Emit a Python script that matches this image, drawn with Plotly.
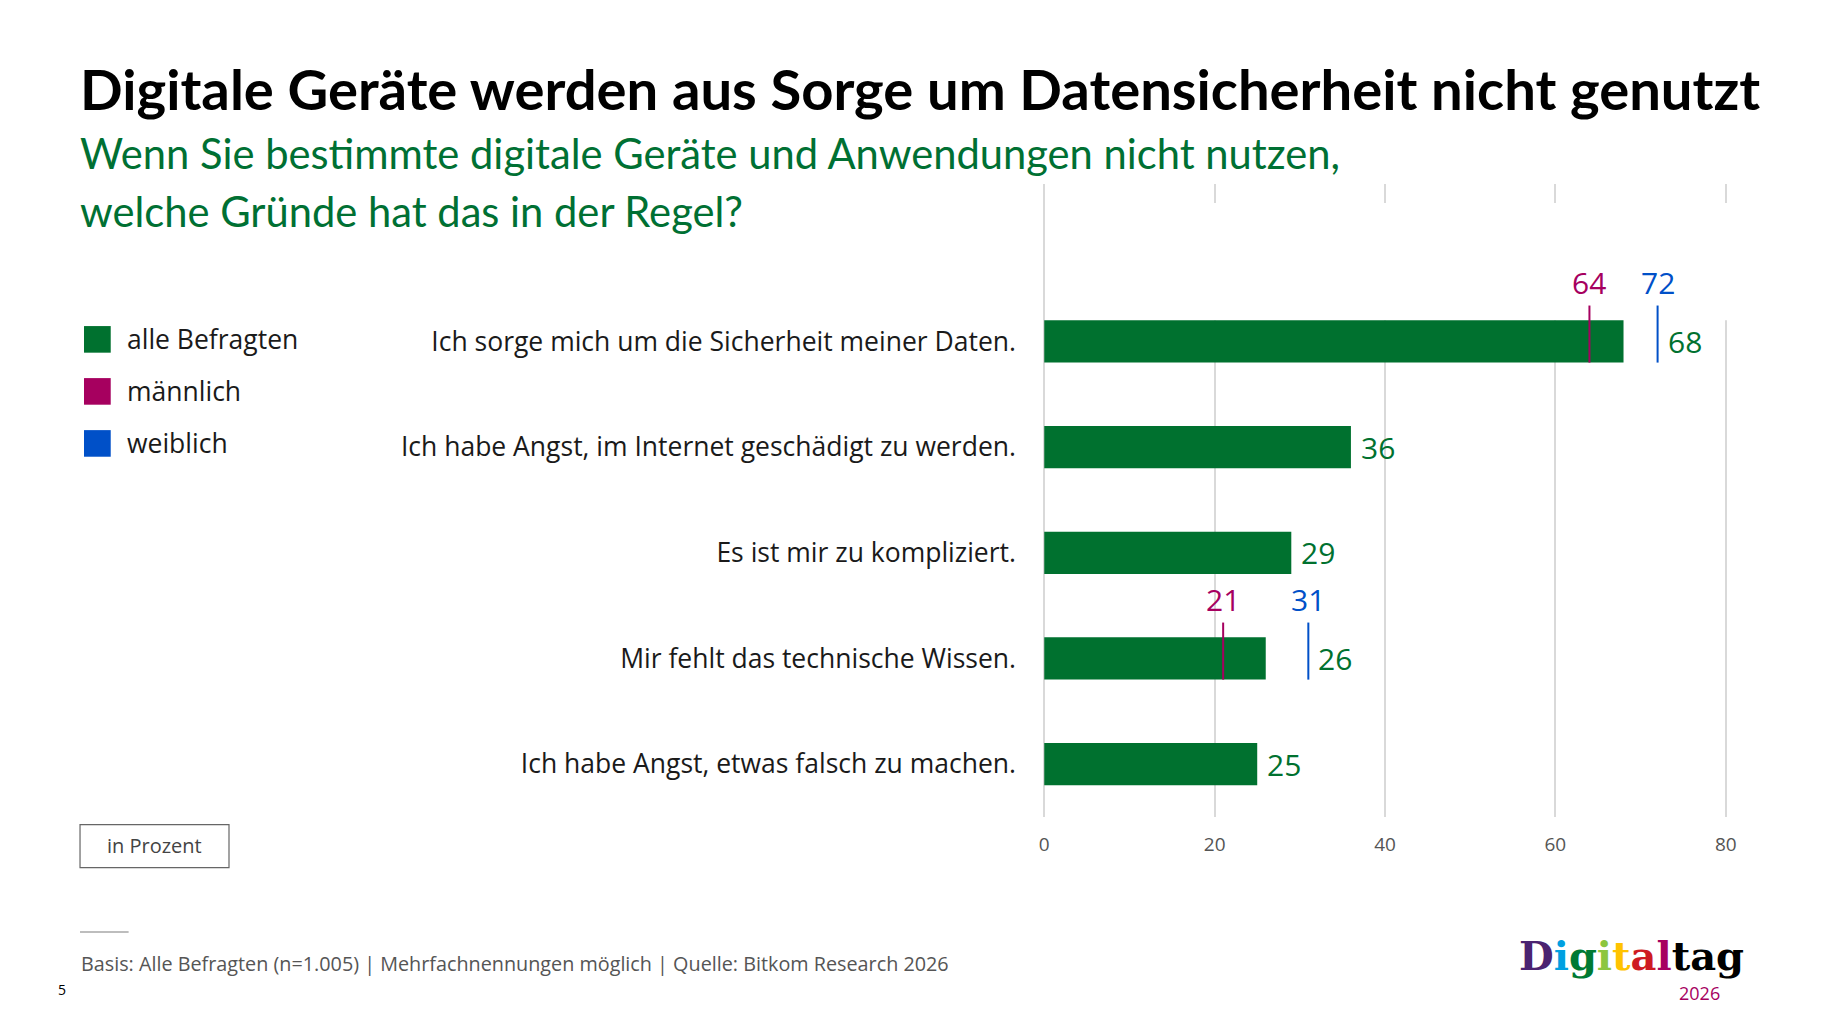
import plotly.graph_objects as go

# ---------------- data ----------------
categories = [
    "Ich sorge mich um die Sicherheit meiner Daten.",
    "Ich habe Angst, im Internet geschädigt zu werden.",
    "Es ist mir zu kompliziert.",
    "Mir fehlt das technische Wissen.",
    "Ich habe Angst, etwas falsch zu machen.",
]
alle = [68, 36, 29, 26, 25]
maennlich = [64, None, None, 21, None]
weiblich = [72, None, None, 31, None]
series_names = ["alle Befragten", "männlich", "weiblich"]
x_ticks = [0, 20, 40, 60, 80]

title_text = "Digitale Geräte werden aus Sorge um Datensicherheit nicht genutzt"
subtitle_lines = ["Wenn Sie bestimmte digitale Geräte und Anwendungen nicht nutzen,",
                  "welche Gründe hat das in der Regel?"]
unit_text = "in Prozent"
footer_text = "Basis: Alle Befragten (n=1.005) | Mehrfachnennungen möglich | Quelle: Bitkom Research 2026"
page_no = "5"

# ---------------- style ----------------
GREEN = "#00712F"
MAGENTA = "#A6005F"
BLUE = "#0050C8"
GRID = "#d9d9d9"
colors = [GREEN, MAGENTA, BLUE]
FONT = "Open Sans"
HEAD = "Lato"

W, H = 1828, 1026
L, R, T, B = 1040.14, 97.74, 184, 209.3
PW, PH = W - L - R, H - T - B


def px(x):
    return (x - L) / PW


def py(y):
    return 1 - (y - T) / PH


fig = go.Figure()
fig.add_trace(go.Bar(
    x=alle, y=categories, orientation="h", width=0.4,
    marker=dict(color=GREEN, line=dict(width=0)),
    name=series_names[0], showlegend=False, hoverinfo="x+y",
))

shapes = []
annotations = []

# white mask hiding the gridlines behind the header labels (as in reference)
shapes.append(dict(type="rect", xref="x", yref="y", x0=0.3, x1=82, y0=-1.31, y1=-0.2,
                   fillcolor="white", line=dict(width=0), layer="between"))

for i, cat in enumerate(categories):
    ends = [alle[i]]
    for vals, col in ((maennlich, MAGENTA), (weiblich, BLUE)):
        v = vals[i]
        if v is None:
            continue
        ends.append(v)
        shapes.append(dict(type="line", xref="x", yref="y", x0=v, x1=v,
                           y0=i - 0.34, y1=i + 0.2, line=dict(color=col, width=2), layer="above"))
        annotations.append(dict(x=v, y=i - 0.56, xref="x", yref="y", text=str(v), showarrow=False,
                                xanchor="center", yanchor="middle",
                                font=dict(family=FONT, size=30, color=col)))
    annotations.append(dict(x=max(ends), y=i, xref="x", yref="y", text=str(alle[i]), showarrow=False,
                            xanchor="left", yanchor="middle", xshift=8,
                            font=dict(family=FONT, size=30, color=GREEN)))

# legend (squares + labels)
leg_y = [339.3, 391.3, 443.3]
for name, col, yc in zip(series_names, colors, leg_y):
    shapes.append(dict(type="rect", xref="paper", yref="paper",
                       x0=px(84), x1=px(110.7), y0=py(yc - 13.3), y1=py(yc + 13.3),
                       fillcolor=col, line=dict(width=0)))
    annotations.append(dict(x=px(124.5), y=py(yc), xref="paper", yref="paper", text=name, showarrow=False,
                            xanchor="left", yanchor="middle",
                            font=dict(family=FONT, size=26.5, color="#1a1a1a")))

# title & subtitle
annotations.append(dict(x=px(78), y=py(88.7), xref="paper", yref="paper", text="<b>" + title_text + "</b>",
                        showarrow=False, xanchor="left", yanchor="middle",
                        font=dict(family=HEAD, size=56.2, color="#000000")))
for line, yc in zip(subtitle_lines, [153, 211]):
    annotations.append(dict(x=px(78), y=py(yc), xref="paper", yref="paper", text=line,
                            showarrow=False, xanchor="left", yanchor="middle", align="left",
                            font=dict(family=HEAD, size=41.7, color="#007033")))

# unit box
shapes.append(dict(type="rect", xref="paper", yref="paper", x0=px(80), x1=px(229), y0=py(824.3), y1=py(867.3),
                   fillcolor="rgba(0,0,0,0)", line=dict(color="#666666", width=1.2)))
annotations.append(dict(x=px(154.5), y=py(845.3), xref="paper", yref="paper", text=unit_text,
                        showarrow=False, xanchor="center", yanchor="middle",
                        font=dict(family=FONT, size=20, color="#444444")))

# footer
shapes.append(dict(type="line", xref="paper", yref="paper", x0=px(80), x1=px(128.6), y0=py(931.7), y1=py(931.7),
                   line=dict(color="#bdbdbd", width=2)))
annotations.append(dict(x=px(78.5), y=py(963), xref="paper", yref="paper", text=footer_text,
                        showarrow=False, xanchor="left", yanchor="middle",
                        font=dict(family=FONT, size=19.8, color="#555555")))
annotations.append(dict(x=px(62), y=py(989), xref="paper", yref="paper", text=page_no,
                        showarrow=False, xanchor="center", yanchor="middle",
                        font=dict(family=FONT, size=14, color="#000000")))

# logo
logo_letters = [("D", "#4B2371"), ("i", "#00A0E1"), ("g", "#007A33"), ("i", "#8CC63F"),
                ("t", "#FFC300"), ("a", "#CE1B22"), ("l", "#A6005F"), ("t", "#000000"),
                ("a", "#000000"), ("g", "#000000")]
logo_html = "".join(f"<span style='color:{c}'>{ch}</span>" for ch, c in logo_letters)
annotations.append(dict(x=px(1517), y=py(955), xref="paper", yref="paper", text="<b>" + logo_html + "</b>",
                        showarrow=False, xanchor="left", yanchor="middle",
                        font=dict(family="DejaVu Serif", size=40, color="#000000")))
annotations.append(dict(x=px(1700), y=py(993), xref="paper", yref="paper", text="2026",
                        showarrow=False, xanchor="center", yanchor="middle",
                        font=dict(family=FONT, size=18, color="#A6005F")))

fig.update_layout(
    width=W, height=H,
    margin=dict(l=L, r=R, t=T, b=B, pad=0),
    paper_bgcolor="white", plot_bgcolor="white",
    showlegend=False,
    shapes=shapes, annotations=annotations,
    xaxis=dict(range=[-0.5, 80.5], tickvals=x_ticks, showgrid=True, gridcolor=GRID, gridwidth=1.5,
               zeroline=False, showline=False, ticks="", ticklabelstandoff=14,
               tickfont=dict(family=FONT, size=19, color="#555555"), fixedrange=True),
    yaxis=dict(type="category", categoryorder="array", categoryarray=categories,
               range=[4.5, -1.49], showgrid=False, zeroline=False, showline=False, ticks="",
               ticklabelstandoff=23, tickfont=dict(family=FONT, size=26.5, color="#1a1a1a"), fixedrange=True),
)

fig.write_html("out.html")
